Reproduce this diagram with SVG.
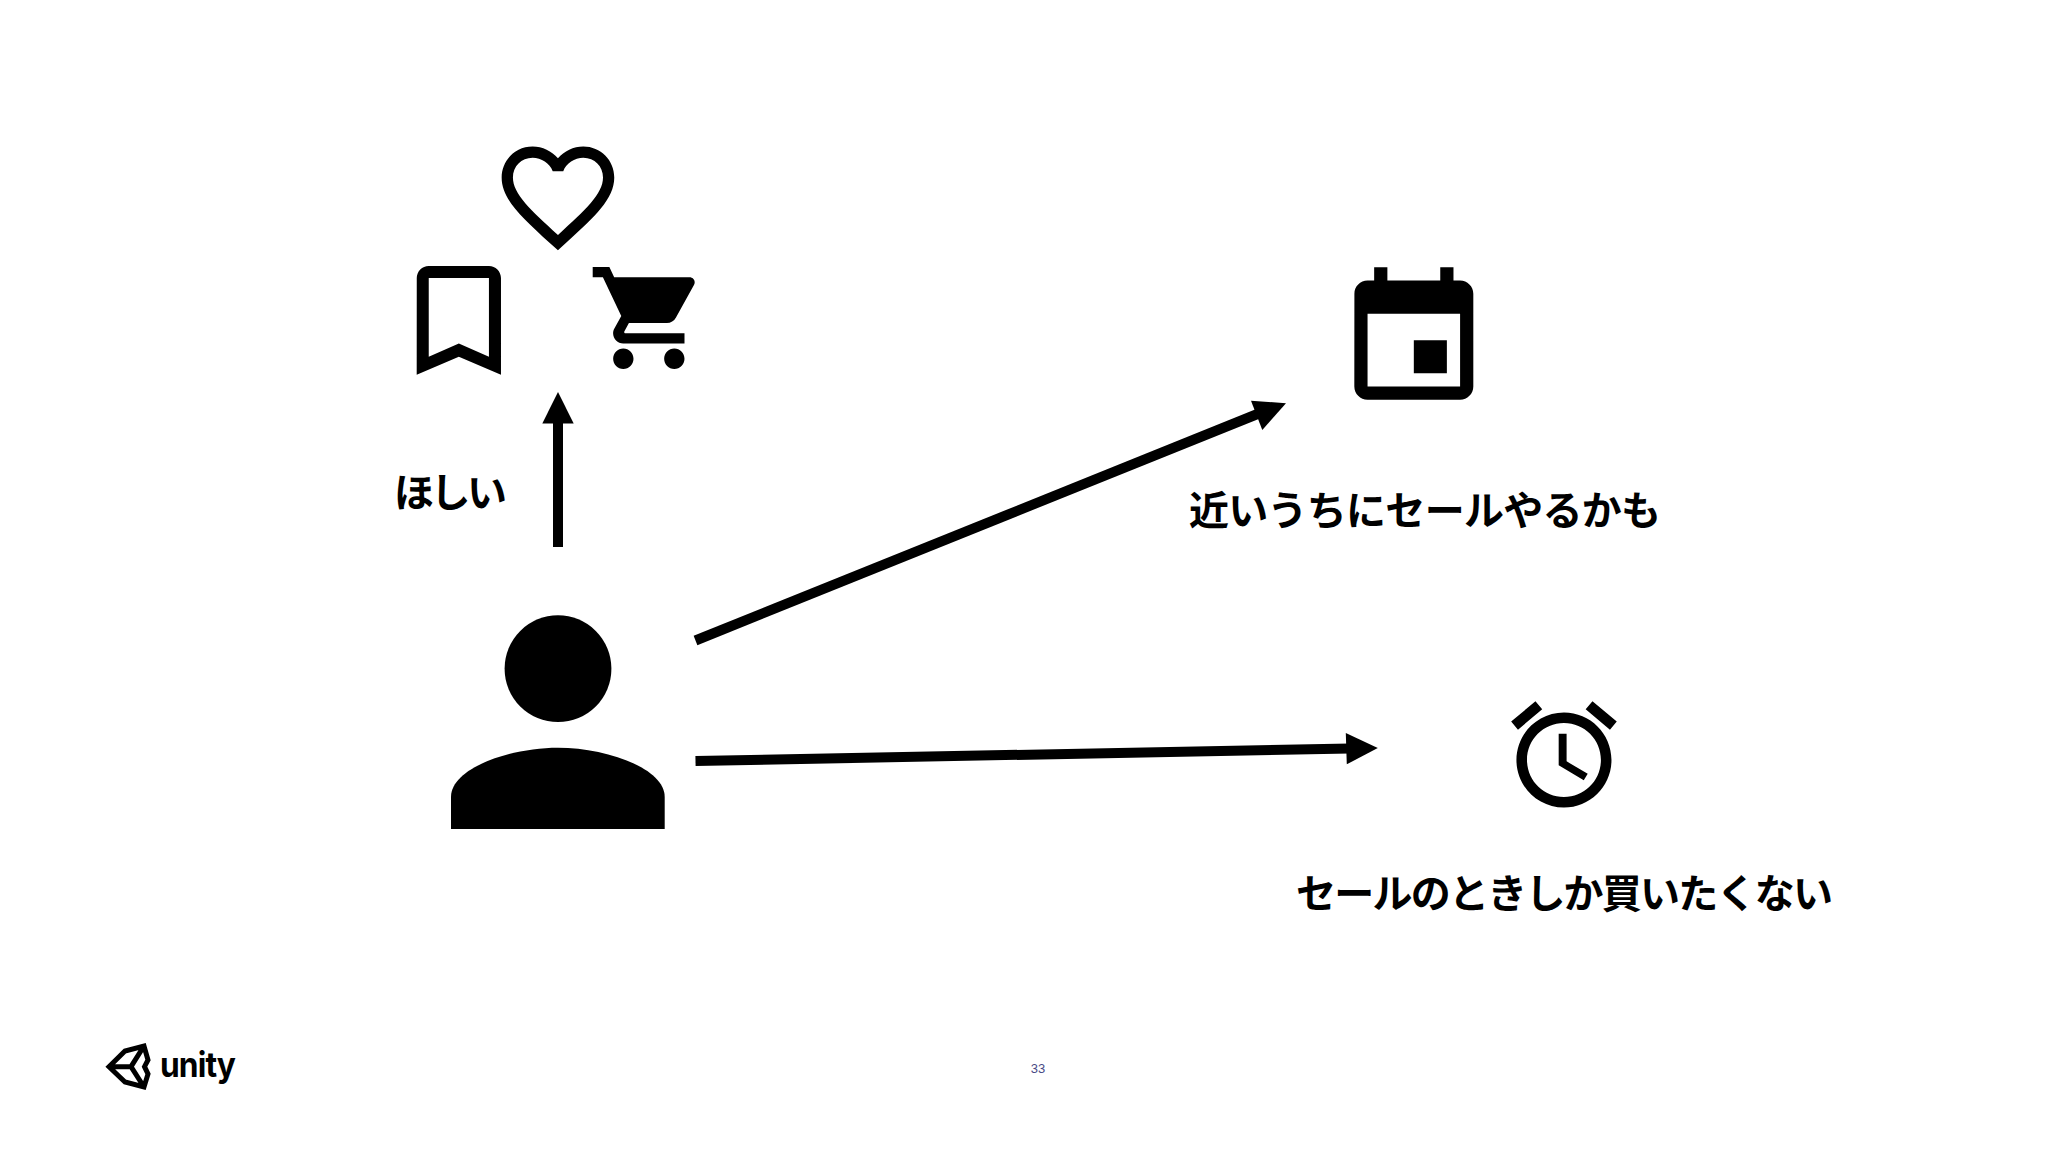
<svg xmlns="http://www.w3.org/2000/svg" width="2048" height="1152" viewBox="0 0 2048 1152">
  <style>
    .label { font-family: "Noto Sans CJK JP", "Liberation Sans", sans-serif; font-size: 40px; font-weight: 700; fill: #000; }
    .icon { fill: #000; }
    .line { stroke: #000; fill: none; stroke-width: 10; }
    .head { fill: #000; stroke: none; }
  </style>
  <rect width="2048" height="1152" fill="#fff"/>
  <g id="heart"><path class="icon" transform="translate(490.4 129.5) scale(5.63 5.66)" d="M16.5 3c-1.74 0-3.41.81-4.5 2.09C10.91 3.81 9.24 3 7.5 3 4.42 3 2 5.42 2 8.5c0 3.78 3.4 6.86 8.55 11.54L12 21.35l1.45-1.32C18.6 15.36 22 12.28 22 8.5 22 5.42 19.58 3 16.5 3zm-4.4 15.55l-.1.1-.1-.1C7.14 14.24 4 11.39 4 8.5 4 6.5 5.5 5 7.5 5c1.54 0 3.04.99 3.57 2.36h1.87C13.46 5.99 14.96 5 16.5 5c2 0 3.5 1.5 3.5 3.5 0 2.89-3.14 5.74-7.9 10.05z"/></g>
  <g id="bookmark"><path class="icon" transform="translate(386.6 247.8) scale(6.02 6.05)" d="M17 3H7c-1.1 0-1.99.9-1.99 2L5 21l7-3 7 3V5c0-1.1-.9-2-2-2zm0 15l-5-2.18L7 18V5h10v13z"/></g>
  <g id="cart"><path class="icon" transform="translate(587.6 256.8) scale(5.1)" d="M7 18c-1.1 0-1.99.9-1.99 2S5.9 22 7 22s2-.9 2-2-.9-2-2-2zM1 2v2h2l3.6 7.59-1.35 2.45c-.16.28-.25.61-.25.96 0 1.1.9 2 2 2h12v-2H7.42c-.14 0-.25-.11-.25-.25l.03-.12.9-1.63h7.45c.75 0 1.41-.41 1.75-1.03l3.58-6.49c.08-.14.12-.31.12-.48 0-.55-.45-1-1-1H5.21l-.94-2H1zm16 16c-1.1 0-1.99.9-1.99 2s.89 2 1.99 2 2-.9 2-2-.9-2-2-2z"/></g>
  <g id="calendar"><path class="icon" transform="translate(1334.5 260.7) scale(6.61 6.62)" d="M17 12h-5v5h5v-5zM16 1v2H8V1H6v2H5c-1.11 0-1.99.9-1.99 2L3 19c0 1.1.89 2 2 2h14c1.1 0 2-.9 2-2V5c0-1.1-.9-2-2-2h-1V1h-2zm3 18H5V8h14v11z"/></g>
  <g id="alarm"><path class="icon" transform="translate(1500.6 691.4) scale(5.28)" d="M22 5.72l-4.6-3.86-1.29 1.53 4.6 3.86L22 5.72zM7.88 3.39L6.6 1.86 2 5.71l1.29 1.53 4.59-3.85zM12.5 8H11v6l4.75 2.85.75-1.23-4-2.37V8zM12 4c-4.97 0-9 4.03-9 9s4.02 9 9 9c4.97 0 9-4.03 9-9s-4.03-9-9-9zm0 16c-3.87 0-7-3.13-7-7s3.13-7 7-7 7 3.13 7 7-3.13 7-7 7z"/></g>
  <g id="person">
    <circle class="icon" cx="558" cy="668.7" r="53.4"/>
    <path class="icon" d="M451 829V797C451 768 510 747.7 558 747.7C606 747.7 664.7 768 664.7 797V829Z"/>
  </g>
  <g id="connectors">
    <line class="line" x1="558" y1="547" x2="558" y2="420"/>
    <polygon class="head" points="558,392 573.7,423.5 542.3,423.5"/>
    <line class="line" x1="695.5" y1="640.5" x2="1260" y2="413"/>
    <polygon class="head" points="1286,403.3 1251,400.7 1262.3,430"/>
    <line class="line" x1="695.5" y1="761" x2="1350" y2="748.5"/>
    <polygon class="head" points="1377.8,748 1345.8,733 1346.8,764.3"/>
  </g>
  <g id="label-want"><text class="label" x="394" y="507" textLength="113" lengthAdjust="spacing">ほしい</text></g>
  <g id="label-soon"><text class="label" x="1189" y="525" textLength="472" lengthAdjust="spacing">近いうちにセールやるかも</text></g>
  <g id="label-only"><text class="label" x="1296" y="908" textLength="537" lengthAdjust="spacing">セールのときしか買いたくない</text></g>
  <g id="logo">
    <path fill="none" stroke="#000" stroke-width="5" stroke-linejoin="miter" d="M109 1066.7L125 1051L144 1046L148 1060L144.5 1066.7L148 1074L144 1087L125 1082ZM109 1066.7L131 1066.7L144 1046M131 1066.7L144 1087"/>
    <text x="160" y="1077" font-family="Inter, 'Liberation Sans', sans-serif" font-size="35" font-weight="700" letter-spacing="-1" textLength="75" lengthAdjust="spacingAndGlyphs">unity</text>
  </g>
  <g id="page-number"><text x="1038" y="1073" text-anchor="middle" font-family="'Liberation Sans', sans-serif" font-size="13" fill="#4a4a86">33</text></g>
</svg>
